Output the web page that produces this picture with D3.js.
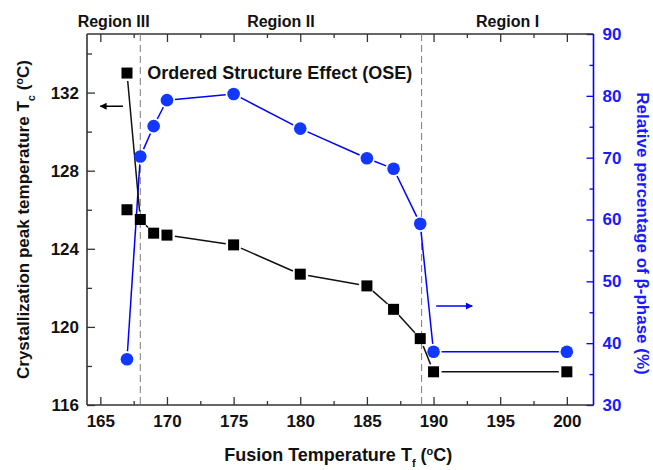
<!DOCTYPE html>
<html><head><meta charset="utf-8">
<script src="https://cdn.jsdelivr.net/npm/d3@7"></script>
<style>
body{margin:0;background:#fff}
svg{display:block}
text{font-family:"Liberation Sans",Arial,sans-serif;font-weight:bold}
</style>
</head><body>
<svg id="chart" width="653" height="470"></svg>
<script>
// ---- data ----
const fusionT   = [167, 168, 169, 170, 175, 180, 185, 187, 189, 190, 200];
const crystT    = [133.0, 125.5, 124.8, 124.7, 124.2, 122.7, 122.1, 120.9, 119.4, 117.7, 117.7];
const extraFusionT = [167];
const extraCrystT  = [126.0];
const betaFusionT  = [167, 168, 169, 170, 175, 180, 185, 187, 189, 190, 200];
const betaPct      = [37.4, 70.2, 75.1, 79.3, 80.3, 74.7, 69.9, 68.2, 59.3, 38.6, 38.6];
const xTicks      = [165, 170, 175, 180, 185, 190, 195, 200];
const xMinorTicks = [167.5, 172.5, 177.5, 182.5, 187.5, 192.5, 197.5];
const leftTicks      = [116, 120, 124, 128, 132];
const leftMinorTicks = [118, 122, 126, 130, 134];
const rightTicks      = [30, 40, 50, 60, 70, 80, 90];
const rightMinorTicks = [35, 45, 55, 65, 75, 85];
const regionBoundaries = [168, 189.1];
const regionNames  = ["Region III", "Region II", "Region I"];
const regionSpans  = [[164, 168], [168, 189.1], [189.1, 202]];
const oseLabel = "Ordered Structure Effect (OSE)";
const leftArrow  = {from: [166.7, 131.3], to: [165.0, 131.3]};
const rightArrow = {from: [190.2, 46], to: [192.9, 46]};

// ---- layout ----
const W = 653, H = 470;
const m = {left: 87, right: 59.5, top: 34, bottom: 65};
const svg = d3.select("#chart");
const x  = d3.scaleLinear().domain([164, 202]).range([m.left, W - m.right]);
const yL = d3.scaleLinear().domain([116, 135]).range([H - m.bottom, m.top]);
const yR = d3.scaleLinear().domain([30, 90]).range([H - m.bottom, m.top]);
const axisCol = "#333", blue = "#0000ff", markBlue = "#1238ff";

svg.append("defs").html(`
 <marker id="ahBlack" viewBox="0 0 10 10" refX="9" refY="5" markerWidth="9" markerHeight="7" markerUnits="userSpaceOnUse" orient="auto"><path d="M0,0 L10,5 L0,10 z" fill="#000"/></marker>
 <marker id="ahBlue" viewBox="0 0 10 10" refX="9" refY="5" markerWidth="9" markerHeight="7" markerUnits="userSpaceOnUse" orient="auto"><path d="M0,0 L10,5 L0,10 z" fill="${blue}"/></marker>`);

function styleAxis(g, col, size) {
  g.select(".domain").remove();
  g.selectAll(".tick line").attr("stroke", col).attr("stroke-width", 1.3);
  g.selectAll(".tick text").attr("fill", col).style("font-size", size + "px");
}
// bottom
const gB = svg.append("g").attr("transform", `translate(0,${H - m.bottom})`);
gB.call(d3.axisBottom(x).tickValues(xTicks).tickSizeInner(-8).tickSizeOuter(0).tickPadding(10).tickFormat(d3.format("d")));
styleAxis(gB, "#111", 17);
gB.selectAll(".tick line").attr("stroke", axisCol);
const gBm = svg.append("g").attr("transform", `translate(0,${H - m.bottom})`);
gBm.call(d3.axisBottom(x).tickValues(xMinorTicks).tickSizeInner(-4).tickSizeOuter(0).tickFormat(""));
styleAxis(gBm, axisCol, 10);
// top
const gT = svg.append("g").attr("transform", `translate(0,${m.top})`);
gT.call(d3.axisTop(x).tickValues(xTicks).tickSizeInner(-8).tickSizeOuter(0).tickFormat(""));
styleAxis(gT, axisCol, 10);
const gTm = svg.append("g").attr("transform", `translate(0,${m.top})`);
gTm.call(d3.axisTop(x).tickValues(xMinorTicks).tickSizeInner(-4).tickSizeOuter(0).tickFormat(""));
styleAxis(gTm, axisCol, 10);
// left
const gL = svg.append("g").attr("transform", `translate(${m.left},0)`);
gL.call(d3.axisLeft(yL).tickValues(leftTicks).tickSizeInner(-8).tickSizeOuter(0).tickPadding(8).tickFormat(d3.format("d")));
styleAxis(gL, "#111", 17);
gL.selectAll(".tick line").attr("stroke", axisCol);
const gLm = svg.append("g").attr("transform", `translate(${m.left},0)`);
gLm.call(d3.axisLeft(yL).tickValues(leftMinorTicks).tickSizeInner(-5).tickSizeOuter(0).tickFormat(""));
styleAxis(gLm, axisCol, 10);
// right
const gR = svg.append("g").attr("transform", `translate(${W - m.right},0)`);
gR.call(d3.axisRight(yR).tickValues(rightTicks).tickSizeInner(-7).tickSizeOuter(0).tickPadding(9).tickFormat(d3.format("d")));
styleAxis(gR, "#1a1aff", 17);
gR.selectAll(".tick line").attr("stroke", blue);
const gRm = svg.append("g").attr("transform", `translate(${W - m.right},0)`);
gRm.call(d3.axisRight(yR).tickValues(rightMinorTicks).tickSizeInner(-4).tickSizeOuter(0).tickFormat(""));
styleAxis(gRm, blue, 10);
gRm.selectAll(".tick line").attr("stroke", blue);

// frame lines
const x0 = x.range()[0], x1 = x.range()[1], yb = yL.range()[0], yt = yL.range()[1];
svg.append("line").attr("x1", x0).attr("x2", x0).attr("y1", yt).attr("y2", yb).attr("stroke", axisCol).attr("stroke-width", 1.6);
svg.append("line").attr("x1", x0).attr("x2", x1).attr("y1", yb).attr("y2", yb).attr("stroke", axisCol).attr("stroke-width", 1.6);
svg.append("line").attr("x1", x0).attr("x2", x1).attr("y1", yt).attr("y2", yt).attr("stroke", axisCol).attr("stroke-width", 1.6);
svg.append("line").attr("x1", x1).attr("x2", x1).attr("y1", yt).attr("y2", yb).attr("stroke", blue).attr("stroke-width", 1.6);

// region boundaries
svg.selectAll(".bnd").data(regionBoundaries).join("line")
  .attr("x1", d => x(d)).attr("x2", d => x(d)).attr("y1", yt).attr("y2", yb)
  .attr("stroke", "#888").attr("stroke-width", 1.1).attr("stroke-dasharray", "7,4");

// region labels
svg.selectAll(".reg").data(regionNames).join("text")
  .attr("x", (d, i) => (x(regionSpans[i][0]) + x(regionSpans[i][1])) / 2)
  .attr("y", 27).attr("text-anchor", "middle").style("font-size", "16px").attr("fill", "#111").text(d => d);
svg.append("text").attr("x", x(regionBoundaries[0]) + 7).attr("y", 79)
  .style("font-size", "18px").attr("fill", "#111").text(oseLabel);

// lines with gaps near markers
function gapped(g, pts, col, gap) {
  for (let i = 0; i < pts.length - 1; i++) {
    const [ax, ay] = pts[i], [bx, by] = pts[i + 1];
    const dx = bx - ax, dy = by - ay, L = Math.hypot(dx, dy);
    if (L <= 2 * gap) continue;
    const ux = dx / L, uy = dy / L;
    g.append("line").attr("x1", ax + ux * gap).attr("y1", ay + uy * gap)
      .attr("x2", bx - ux * gap).attr("y2", by - uy * gap)
      .attr("stroke", col).attr("stroke-width", 1.5);
  }
}
const blackPts = fusionT.map((t, i) => [x(t), yL(crystT[i])]);
const bluePts  = betaFusionT.map((t, i) => [x(t), yR(betaPct[i])]);
const lg = svg.append("g");
gapped(lg, bluePts, blue, 8);
gapped(lg, blackPts, "#111", 8);

// markers
const sq = 11;
svg.append("g").selectAll("rect").data(blackPts.concat(extraFusionT.map((t, i) => [x(t), yL(extraCrystT[i])])))
  .join("rect").attr("x", d => d[0] - sq / 2).attr("y", d => d[1] - sq / 2)
  .attr("width", sq).attr("height", sq).attr("fill", "#000");
svg.append("g").selectAll("circle").data(bluePts).join("circle")
  .attr("cx", d => d[0]).attr("cy", d => d[1]).attr("r", 6.3).attr("fill", markBlue);

// arrows
svg.append("line").attr("x1", x(leftArrow.from[0])).attr("y1", yL(leftArrow.from[1]))
  .attr("x2", x(leftArrow.to[0])).attr("y2", yL(leftArrow.to[1]))
  .attr("stroke", "#000").attr("stroke-width", 1.5).attr("marker-end", "url(#ahBlack)");
svg.append("line").attr("x1", x(rightArrow.from[0])).attr("y1", yR(rightArrow.from[1]))
  .attr("x2", x(rightArrow.to[0])).attr("y2", yR(rightArrow.to[1]))
  .attr("stroke", blue).attr("stroke-width", 1.5).attr("marker-end", "url(#ahBlue)");

// axis titles
const xt = svg.append("text").attr("x", (x0 + x1) / 2 - 2).attr("y", 461).attr("text-anchor", "middle")
  .style("font-size", "18px").attr("fill", "#111");
xt.append("tspan").text("Fusion Temperature T");
xt.append("tspan").attr("baseline-shift", "sub").style("font-size", "11px").text("f");
xt.append("tspan").text(" (");
xt.append("tspan").attr("baseline-shift", "super").style("font-size", "11px").text("o");
xt.append("tspan").text("C)");

const lt = svg.append("text").attr("transform", `translate(29,${(yt + yb) / 2}) rotate(-90)`)
  .attr("text-anchor", "middle").style("font-size", "17px").attr("fill", "#111");
lt.append("tspan").text("Crystallization peak temperature T");
lt.append("tspan").attr("baseline-shift", "sub").style("font-size", "11px").text("c");
lt.append("tspan").text(" (");
lt.append("tspan").attr("baseline-shift", "super").style("font-size", "11px").text("o");
lt.append("tspan").text("C)");

svg.append("text").attr("transform", `translate(637,${(yt + yb) / 2 + 14}) rotate(90)`)
  .attr("text-anchor", "middle").style("font-size", "17px").attr("fill", "#1a1aff")
  .text("Relative percentage of β-phase (%)");
</script>
</body></html>
